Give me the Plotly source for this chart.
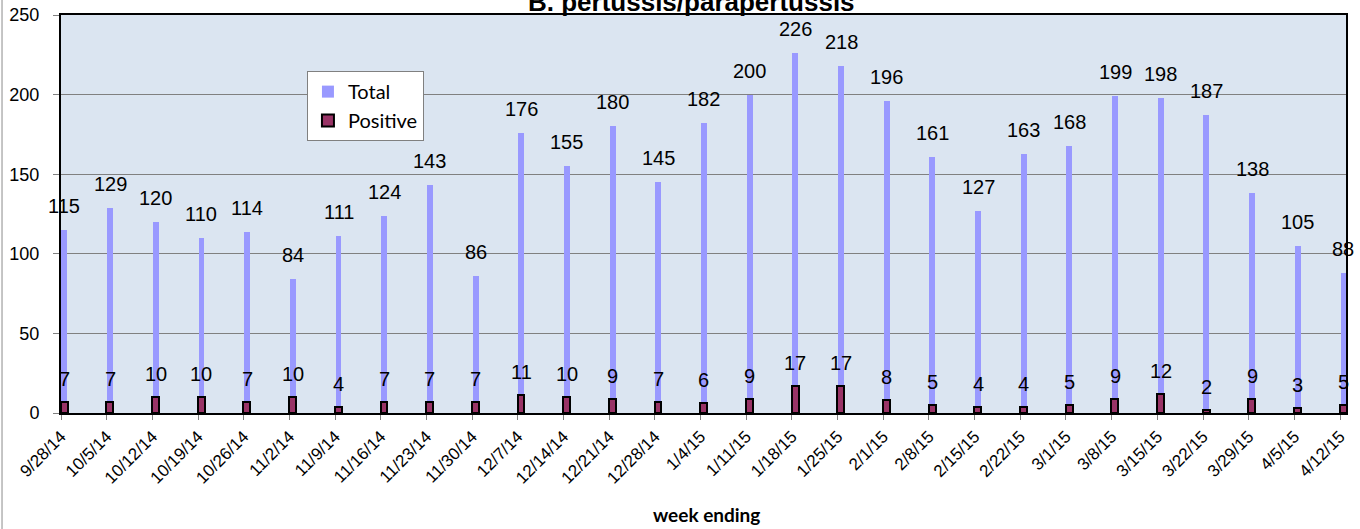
import plotly.graph_objects as go

weeks = ["9/28/14", "10/5/14", "10/12/14", "10/19/14", "10/26/14", "11/2/14", "11/9/14",
         "11/16/14", "11/23/14", "11/30/14", "12/7/14", "12/14/14", "12/21/14", "12/28/14",
         "1/4/15", "1/11/15", "1/18/15", "1/25/15", "2/1/15", "2/8/15", "2/15/15", "2/22/15",
         "3/1/15", "3/8/15", "3/15/15", "3/22/15", "3/29/15", "4/5/15", "4/12/15"]
total = [115, 129, 120, 110, 114, 84, 111, 124, 143, 86, 176, 155, 180, 145, 182, 200,
         226, 218, 196, 161, 127, 163, 168, 199, 198, 187, 138, 105, 88]
positive = [7, 7, 10, 10, 7, 10, 4, 7, 7, 7, 11, 10, 9, 7, 6, 9, 17, 17, 8, 5, 4, 4, 5,
            9, 12, 2, 9, 3, 5]
y_ticks = [0, 50, 100, 150, 200, 250]

xs = list(range(len(weeks)))
FONT = "Liberation Sans, Arial, sans-serif"

fig = go.Figure()
fig.add_trace(go.Bar(x=xs, y=total, name="Total", width=0.13, offset=0.01,
                     marker=dict(color="#9999ff", line=dict(width=0)),
                     legendgroup="a"))
fig.add_trace(go.Bar(x=xs, y=positive, name="Positive", width=0.15, offset=-0.005,
                     marker=dict(color="#993366", line=dict(color="black", width=2)),
                     legendgroup="b"))

annotations = []
for i, (t, p) in enumerate(zip(total, positive)):
    annotations.append(dict(x=i + 0.075, y=t, text=str(t), showarrow=False,
                            xref="x", yref="y", yanchor="bottom", yshift=11,
                            font=dict(family=FONT, size=20, color="black")))
    annotations.append(dict(x=i + 0.075, y=p, text=str(p), showarrow=False,
                            xref="x", yref="y", yanchor="bottom", yshift=10,
                            font=dict(family=FONT, size=20, color="black")))

annotations.append(dict(x=0.491, y=1.0, xref="paper", yref="paper", yanchor="bottom",
                        yshift=-4, showarrow=False, text="<b>B. pertussis/parapertussis</b>",
                        font=dict(family=FONT, size=26, color="black")))
annotations.append(dict(x=0.502, y=-0.254, xref="paper", yref="paper", yanchor="middle",
                        showarrow=False, text="<b>week ending</b>",
                        font=dict(family="Lato, sans-serif", size=19, color="black")))

fig.update_layout(
    width=1360, height=529,
    margin=dict(l=61, r=14, t=15, b=116, pad=0, autoexpand=False),
    paper_bgcolor="white", plot_bgcolor="#dbe5f1",
    barmode="overlay", bargap=0,
    showlegend=True,
    legend=dict(x=0.1914, y=0.859, xanchor="left", yanchor="top",
                bgcolor="white", bordercolor="#808080", borderwidth=1,
                font=dict(family="Lato, sans-serif", size=20, color="black"),
                tracegroupgap=0, itemwidth=30, entrywidth=90, entrywidthmode="pixels"),
    annotations=annotations,
    shapes=[dict(type="line", xref="paper", yref="paper", x0=-0.0459, x1=-0.0459,
                 y0=-0.3, y1=1.1, line=dict(color="#8c8c8c", width=1))],
)
fig.update_xaxes(range=[0, 28.13], tickmode="array", tickvals=xs, ticktext=weeks,
                 tickangle=-45, ticks="outside", ticklen=5, tickcolor="#808080",
                 showline=True, mirror=True, linecolor="black", linewidth=2,
                 showgrid=False, zeroline=False, automargin=False,
                 tickfont=dict(family=FONT, size=17, color="black"))
fig.update_yaxes(range=[0, 250], tickmode="array", tickvals=y_ticks, ticks="outside",
                 ticklen=6, tickcolor="#808080", ticklabelstandoff=10,
                 showline=True, mirror=True, linecolor="black", linewidth=2,
                 showgrid=True, gridcolor="#808080", gridwidth=1, zeroline=False,
                 automargin=False,
                 tickfont=dict(family=FONT, size=18, color="black"))

fig.write_html("out.html", config={"displayModeBar": False},
               post_script="document.body.style.margin='0px';document.body.style.overflow='hidden';")
